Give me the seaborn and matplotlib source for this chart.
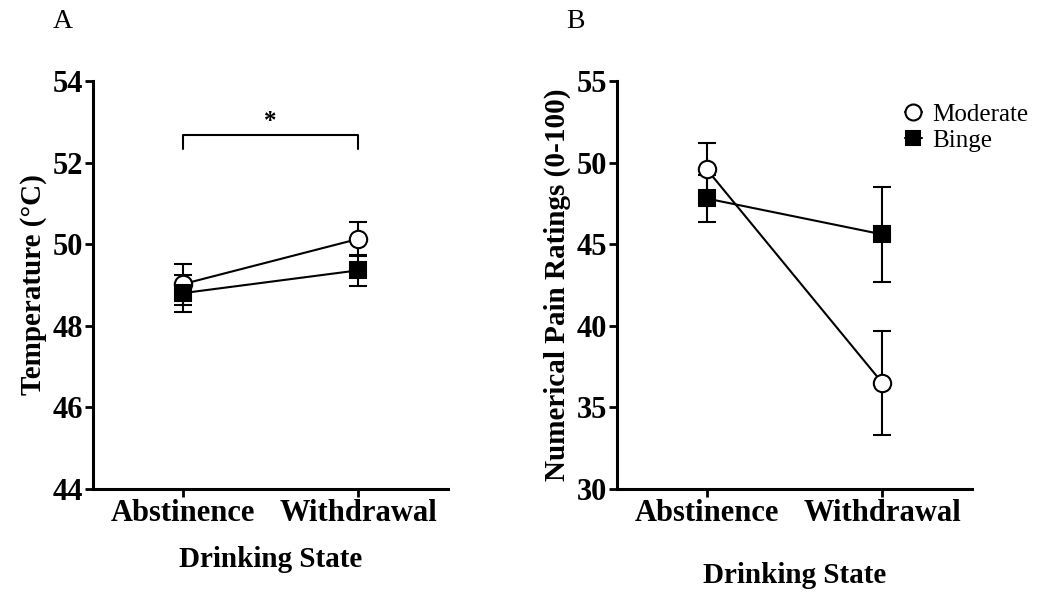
import numpy as np
import pandas as pd
import matplotlib
matplotlib.use("Agg")
import matplotlib.pyplot as plt
import seaborn as sns
from matplotlib.lines import Line2D

# Drinking states on the x axis
states = ["Abstinence", "Withdrawal"]

# Panel A: heat pain threshold temperature (mean, SE)
temp_moderate = [49.02, 50.13]
temp_moderate_se = [0.50, 0.42]
temp_binge = [48.80, 49.36]
temp_binge_se = [0.45, 0.38]

# Panel B: numerical pain ratings (mean, SE)
pain_moderate = [49.6, 36.5]
pain_moderate_se = [1.6, 3.2]
pain_binge = [47.8, 45.6]
pain_binge_se = [1.45, 2.9]

temp_ticks = [44, 46, 48, 50, 52, 54]
pain_ticks = [30, 35, 40, 45, 50, 55]

sns.set_theme(style="ticks")
plt.rcParams["font.family"] = ["Liberation Serif", "DejaVu Serif"]
plt.rcParams["axes.linewidth"] = 2.2
plt.rcParams["text.color"] = "black"
plt.rcParams["axes.labelcolor"] = "black"
plt.rcParams["xtick.color"] = "black"
plt.rcParams["ytick.color"] = "black"

fig = plt.figure(figsize=(10.42, 5.92), dpi=100)
axA = fig.add_axes([0.0893, 0.174, 0.3407, 0.6892])
axB = fig.add_axes([0.5921, 0.174, 0.3407, 0.6892])

groups = [
    ("Moderate", "o", "white"),
    ("Binge", "s", "black"),
]


def draw_panel(ax, series, ticks, ylabel, xlabel_pad):
    x = np.arange(len(states))
    for (name, marker, face), (mean, se) in zip(groups, series):
        df = pd.DataFrame({"state": x, "value": mean})
        ax.errorbar(x, mean, yerr=se, fmt="none", ecolor="black",
                    elinewidth=1.5, capsize=6.5, capthick=1.5, zorder=2)
        sns.lineplot(data=df, x="state", y="value", ax=ax, color="black",
                     linewidth=1.5, marker=marker,
                     markersize=12.5 if marker == "o" else 12,
                     markerfacecolor=face, markeredgecolor="black",
                     markeredgewidth=1.5, zorder=3, legend=False)
    ax.set_xlim(-0.51, 1.51)
    ax.set_ylim(ticks[0], ticks[-1])
    ax.set_yticks(ticks)
    ax.set_xticks(x)
    ax.set_xticklabels(states)
    ax.tick_params(axis="both", direction="out", length=6, width=2.0,
                   colors="black", pad=1)
    for lab in ax.get_yticklabels():
        lab.set_fontsize(22)
        lab.set_fontweight("bold")
        lab.set_color("black")
    for lab in ax.get_xticklabels():
        lab.set_fontsize(22)
        lab.set_fontweight("bold")
        lab.set_color("black")
    ax.set_ylabel(ylabel, fontsize=21, fontweight="bold", labelpad=4,
                  color="black")
    ax.set_xlabel("Drinking State", fontsize=21, fontweight="bold",
                  labelpad=xlabel_pad, color="black")
    sns.despine(ax=ax)
    for sp in ("left", "bottom"):
        ax.spines[sp].set_color("black")


draw_panel(axA,
           [(temp_moderate, temp_moderate_se), (temp_binge, temp_binge_se)],
           temp_ticks, "Temperature (°C)", 13)
draw_panel(axB,
           [(pain_moderate, pain_moderate_se), (pain_binge, pain_binge_se)],
           pain_ticks, "Numerical Pain Ratings (0-100)", 25)

# Significance bracket between drinking states
axA.plot([0, 0, 1, 1], [52.33, 52.68, 52.68, 52.33], color="black",
         linewidth=1.5, clip_on=False)
axA.text(0.5, 52.72, "*", ha="center", va="bottom", fontsize=18,
         fontweight="bold", color="black")

# Legend for drinking groups
handles = [
    Line2D([0], [0], color="black", linewidth=1.5, marker="o", markersize=11.5,
           markerfacecolor="white", markeredgecolor="black",
           markeredgewidth=1.5),
    Line2D([0], [0], color="black", linewidth=1.5, marker="s", markersize=10.5,
           markerfacecolor="black", markeredgecolor="black",
           markeredgewidth=1.5),
]
leg = axB.legend(handles, ["Moderate", "Binge"], loc="upper left",
                 bbox_to_anchor=(0.782, 0.97), frameon=False, fontsize=18,
                 handlelength=0.7, handletextpad=0.4, labelspacing=0.15,
                 borderaxespad=0.0)
for t in leg.get_texts():
    t.set_color("black")

fig.text(0.051, 0.9645, "A", fontsize=20, ha="left", va="center",
         color="black")
fig.text(0.543, 0.9645, "B", fontsize=20, ha="left", va="center",
         color="black")

fig.savefig("out.png", dpi=100)
